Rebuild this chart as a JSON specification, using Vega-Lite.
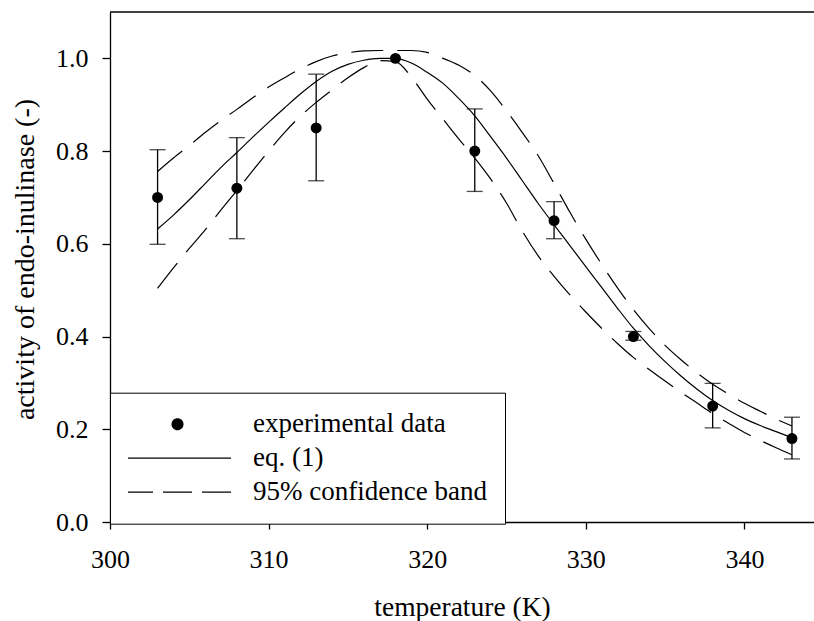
{
  "$schema": "https://vega.github.io/schema/vega-lite/v6.json",
  "width": 704,
  "height": 510,
  "autosize": {"type": "none"},
  "padding": {"left": 110, "top": 12, "right": 0, "bottom": 99},
  "background": "white",
  "config": {
    "view": {"stroke": null},
    "font": "Liberation Serif",
    "axis": {
      "grid": false,
      "labelFlush": false,
      "domainColor": "black",
      "domainWidth": 1.3,
      "tickColor": "black",
      "tickWidth": 1.3,
      "labelColor": "black",
      "titleColor": "black",
      "labelFont": "Liberation Serif",
      "titleFont": "Liberation Serif",
      "labelFontSize": 26,
      "titleFontSize": 27.5,
      "titleFontWeight": "normal"
    }
  },
  "datasets": {
    "obs": [
      {"T": 303, "v": 0.70, "series": "experimental data"},
      {"T": 308, "v": 0.72, "series": "experimental data"},
      {"T": 313, "v": 0.85, "series": "experimental data"},
      {"T": 318, "v": 1.00, "series": "experimental data"},
      {"T": 323, "v": 0.80, "series": "experimental data"},
      {"T": 328, "v": 0.65, "series": "experimental data"},
      {"T": 333, "v": 0.40, "series": "experimental data"},
      {"T": 338, "v": 0.25, "series": "experimental data"},
      {"T": 343, "v": 0.18, "series": "experimental data"}
    ],
    "err": [
      {"T": 303, "lo": 0.599, "hi": 0.803},
      {"T": 308, "lo": 0.611, "hi": 0.829},
      {"T": 313, "lo": 0.736, "hi": 0.966},
      {"T": 323, "lo": 0.713, "hi": 0.891},
      {"T": 328, "lo": 0.611, "hi": 0.691},
      {"T": 333, "lo": 0.392, "hi": 0.411},
      {"T": 338, "lo": 0.203, "hi": 0.299},
      {"T": 343, "lo": 0.136, "hi": 0.226}
    ],
    "fit": [
      {"T": 303, "v": 0.632, "series": "eq. (1)"},
      {"T": 304, "v": 0.662, "series": "eq. (1)"},
      {"T": 305, "v": 0.695, "series": "eq. (1)"},
      {"T": 306, "v": 0.73, "series": "eq. (1)"},
      {"T": 307, "v": 0.765, "series": "eq. (1)"},
      {"T": 308, "v": 0.797, "series": "eq. (1)"},
      {"T": 309, "v": 0.83, "series": "eq. (1)"},
      {"T": 310, "v": 0.862, "series": "eq. (1)"},
      {"T": 311, "v": 0.893, "series": "eq. (1)"},
      {"T": 312, "v": 0.923, "series": "eq. (1)"},
      {"T": 313, "v": 0.95, "series": "eq. (1)"},
      {"T": 314, "v": 0.972, "series": "eq. (1)"},
      {"T": 315, "v": 0.987, "series": "eq. (1)"},
      {"T": 316, "v": 0.996, "series": "eq. (1)"},
      {"T": 317, "v": 1.0, "series": "eq. (1)"},
      {"T": 318, "v": 1.0, "series": "eq. (1)"},
      {"T": 319, "v": 0.99, "series": "eq. (1)"},
      {"T": 320, "v": 0.97, "series": "eq. (1)"},
      {"T": 321, "v": 0.946, "series": "eq. (1)"},
      {"T": 322, "v": 0.913, "series": "eq. (1)"},
      {"T": 323, "v": 0.876, "series": "eq. (1)"},
      {"T": 324, "v": 0.831, "series": "eq. (1)"},
      {"T": 325, "v": 0.785, "series": "eq. (1)"},
      {"T": 326, "v": 0.736, "series": "eq. (1)"},
      {"T": 327, "v": 0.687, "series": "eq. (1)"},
      {"T": 328, "v": 0.641, "series": "eq. (1)"},
      {"T": 329, "v": 0.596, "series": "eq. (1)"},
      {"T": 330, "v": 0.551, "series": "eq. (1)"},
      {"T": 331, "v": 0.506, "series": "eq. (1)"},
      {"T": 332, "v": 0.461, "series": "eq. (1)"},
      {"T": 333, "v": 0.418, "series": "eq. (1)"},
      {"T": 334, "v": 0.38, "series": "eq. (1)"},
      {"T": 335, "v": 0.346, "series": "eq. (1)"},
      {"T": 336, "v": 0.315, "series": "eq. (1)"},
      {"T": 337, "v": 0.287, "series": "eq. (1)"},
      {"T": 338, "v": 0.262, "series": "eq. (1)"},
      {"T": 339, "v": 0.241, "series": "eq. (1)"},
      {"T": 340, "v": 0.223, "series": "eq. (1)"},
      {"T": 341, "v": 0.208, "series": "eq. (1)"},
      {"T": 342, "v": 0.195, "series": "eq. (1)"},
      {"T": 343, "v": 0.182, "series": "eq. (1)"}
    ],
    "band": [
      {"T": 303, "v": 0.756, "band": "upper", "series": "95% confidence band"},
      {"T": 304, "v": 0.785, "band": "upper", "series": "95% confidence band"},
      {"T": 305, "v": 0.812, "band": "upper", "series": "95% confidence band"},
      {"T": 306, "v": 0.84, "band": "upper", "series": "95% confidence band"},
      {"T": 307, "v": 0.866, "band": "upper", "series": "95% confidence band"},
      {"T": 308, "v": 0.89, "band": "upper", "series": "95% confidence band"},
      {"T": 309, "v": 0.915, "band": "upper", "series": "95% confidence band"},
      {"T": 310, "v": 0.938, "band": "upper", "series": "95% confidence band"},
      {"T": 311, "v": 0.958, "band": "upper", "series": "95% confidence band"},
      {"T": 312, "v": 0.977, "band": "upper", "series": "95% confidence band"},
      {"T": 313, "v": 0.993, "band": "upper", "series": "95% confidence band"},
      {"T": 314, "v": 1.005, "band": "upper", "series": "95% confidence band"},
      {"T": 315, "v": 1.012, "band": "upper", "series": "95% confidence band"},
      {"T": 316, "v": 1.016, "band": "upper", "series": "95% confidence band"},
      {"T": 317, "v": 1.017, "band": "upper", "series": "95% confidence band"},
      {"T": 318, "v": 1.017, "band": "upper", "series": "95% confidence band"},
      {"T": 319, "v": 1.017, "band": "upper", "series": "95% confidence band"},
      {"T": 320, "v": 1.013, "band": "upper", "series": "95% confidence band"},
      {"T": 321, "v": 1.0, "band": "upper", "series": "95% confidence band"},
      {"T": 322, "v": 0.985, "band": "upper", "series": "95% confidence band"},
      {"T": 323, "v": 0.963, "band": "upper", "series": "95% confidence band"},
      {"T": 324, "v": 0.93, "band": "upper", "series": "95% confidence band"},
      {"T": 325, "v": 0.887, "band": "upper", "series": "95% confidence band"},
      {"T": 326, "v": 0.84, "band": "upper", "series": "95% confidence band"},
      {"T": 327, "v": 0.79, "band": "upper", "series": "95% confidence band"},
      {"T": 328, "v": 0.73, "band": "upper", "series": "95% confidence band"},
      {"T": 329, "v": 0.668, "band": "upper", "series": "95% confidence band"},
      {"T": 330, "v": 0.61, "band": "upper", "series": "95% confidence band"},
      {"T": 331, "v": 0.556, "band": "upper", "series": "95% confidence band"},
      {"T": 332, "v": 0.505, "band": "upper", "series": "95% confidence band"},
      {"T": 333, "v": 0.458, "band": "upper", "series": "95% confidence band"},
      {"T": 334, "v": 0.417, "band": "upper", "series": "95% confidence band"},
      {"T": 335, "v": 0.381, "band": "upper", "series": "95% confidence band"},
      {"T": 336, "v": 0.35, "band": "upper", "series": "95% confidence band"},
      {"T": 337, "v": 0.322, "band": "upper", "series": "95% confidence band"},
      {"T": 338, "v": 0.297, "band": "upper", "series": "95% confidence band"},
      {"T": 339, "v": 0.276, "band": "upper", "series": "95% confidence band"},
      {"T": 340, "v": 0.256, "band": "upper", "series": "95% confidence band"},
      {"T": 341, "v": 0.239, "band": "upper", "series": "95% confidence band"},
      {"T": 342, "v": 0.222, "band": "upper", "series": "95% confidence band"},
      {"T": 343, "v": 0.207, "band": "upper", "series": "95% confidence band"},
      {"T": 303, "v": 0.504, "band": "lower", "series": "95% confidence band"},
      {"T": 304, "v": 0.548, "band": "lower", "series": "95% confidence band"},
      {"T": 305, "v": 0.59, "band": "lower", "series": "95% confidence band"},
      {"T": 306, "v": 0.63, "band": "lower", "series": "95% confidence band"},
      {"T": 307, "v": 0.673, "band": "lower", "series": "95% confidence band"},
      {"T": 308, "v": 0.715, "band": "lower", "series": "95% confidence band"},
      {"T": 309, "v": 0.758, "band": "lower", "series": "95% confidence band"},
      {"T": 310, "v": 0.80, "band": "lower", "series": "95% confidence band"},
      {"T": 311, "v": 0.84, "band": "lower", "series": "95% confidence band"},
      {"T": 312, "v": 0.875, "band": "lower", "series": "95% confidence band"},
      {"T": 313, "v": 0.905, "band": "lower", "series": "95% confidence band"},
      {"T": 314, "v": 0.932, "band": "lower", "series": "95% confidence band"},
      {"T": 315, "v": 0.958, "band": "lower", "series": "95% confidence band"},
      {"T": 316, "v": 0.98, "band": "lower", "series": "95% confidence band"},
      {"T": 317, "v": 0.995, "band": "lower", "series": "95% confidence band"},
      {"T": 318, "v": 0.993, "band": "lower", "series": "95% confidence band"},
      {"T": 319, "v": 0.96, "band": "lower", "series": "95% confidence band"},
      {"T": 320, "v": 0.912, "band": "lower", "series": "95% confidence band"},
      {"T": 321, "v": 0.869, "band": "lower", "series": "95% confidence band"},
      {"T": 322, "v": 0.826, "band": "lower", "series": "95% confidence band"},
      {"T": 323, "v": 0.785, "band": "lower", "series": "95% confidence band"},
      {"T": 324, "v": 0.74, "band": "lower", "series": "95% confidence band"},
      {"T": 325, "v": 0.688, "band": "lower", "series": "95% confidence band"},
      {"T": 326, "v": 0.627, "band": "lower", "series": "95% confidence band"},
      {"T": 327, "v": 0.574, "band": "lower", "series": "95% confidence band"},
      {"T": 328, "v": 0.53, "band": "lower", "series": "95% confidence band"},
      {"T": 329, "v": 0.49, "band": "lower", "series": "95% confidence band"},
      {"T": 330, "v": 0.453, "band": "lower", "series": "95% confidence band"},
      {"T": 331, "v": 0.418, "band": "lower", "series": "95% confidence band"},
      {"T": 332, "v": 0.385, "band": "lower", "series": "95% confidence band"},
      {"T": 333, "v": 0.355, "band": "lower", "series": "95% confidence band"},
      {"T": 334, "v": 0.329, "band": "lower", "series": "95% confidence band"},
      {"T": 335, "v": 0.304, "band": "lower", "series": "95% confidence band"},
      {"T": 336, "v": 0.28, "band": "lower", "series": "95% confidence band"},
      {"T": 337, "v": 0.257, "band": "lower", "series": "95% confidence band"},
      {"T": 338, "v": 0.234, "band": "lower", "series": "95% confidence band"},
      {"T": 339, "v": 0.213, "band": "lower", "series": "95% confidence band"},
      {"T": 340, "v": 0.193, "band": "lower", "series": "95% confidence band"},
      {"T": 341, "v": 0.176, "band": "lower", "series": "95% confidence band"},
      {"T": 342, "v": 0.16, "band": "lower", "series": "95% confidence band"},
      {"T": 343, "v": 0.145, "band": "lower", "series": "95% confidence band"}
    ]
  },
  "layer": [
    {
      "data": {"name": "band"},
      "mark": {"type": "line", "strokeDash": [32, 14], "strokeWidth": 1.2, "interpolate": "monotone"},
      "encoding": {
        "x": {
          "field": "T", "type": "quantitative",
          "scale": {"domain": [300, 344.39], "nice": false, "zero": false},
          "axis": {"values": [300, 310, 320, 330, 340], "title": "temperature (K)", "tickSize": 7, "labelPadding": 17, "labelFlush": false, "titleBaseline": "alphabetic", "titleY": 93}
        },
        "y": {
          "field": "v", "type": "quantitative",
          "scale": {"domain": [0, 1.1], "nice": false},
          "axis": {"values": [0, 0.2, 0.4, 0.6, 0.8, 1.0], "format": ".1f", "title": "activity of endo-inulinase (-)", "titleFontSize": 28, "tickSize": 8, "labelPadding": 14, "labelFlush": false, "titlePadding": 16, "titleY": 247}
        },
        "detail": {"field": "band"},
        "color": {
          "field": "series", "type": "nominal",
          "scale": {"domain": ["experimental data", "eq. (1)", "95% confidence band"], "range": ["black", "black", "black"]},
          "legend": {
            "title": null,
            "orient": "none",
            "legendX": 0,
            "legendY": 380.7,
            "strokeColor": "black",
            "fillColor": "white",
            "padding": 18,
            "cornerRadius": 0,
            "symbolSize": 11449,
            "symbolType": "stroke",
            "symbolStrokeWidth": 1.2,
            "symbolOffset": -5,
            "clipHeight": 27,
            "rowPadding": 6,
            "labelFont": "Liberation Serif",
            "labelFontSize": 27,
            "labelColor": "black",
            "labelOffset": 21,
            "labelLimit": 400,
            "encode": {
              "symbols": {
                "update": {
                  "shape": {"signal": "datum.value === 'experimental data' ? 'M0.101,0A0.101,0.101,0,1,1,-0.101,0A0.101,0.101,0,1,1,0.101,0Z' : 'stroke'"},
                  "fill": {"signal": "datum.value === 'experimental data' ? 'black' : 'transparent'"},
                  "stroke": {"value": "black"},
                  "strokeDash": {"signal": "datum.value === '95% confidence band' ? [29, 10] : [1, 0]"},
                  "opacity": {"value": 1}
                }
              }
            }
          }
        }
      }
    },
    {
      "data": {"name": "fit"},
      "mark": {"type": "line", "strokeWidth": 1.2, "interpolate": "monotone"},
      "encoding": {
        "x": {"field": "T", "type": "quantitative"},
        "y": {"field": "v", "type": "quantitative"},
        "color": {"field": "series", "type": "nominal"}
      }
    },
    {
      "data": {"name": "err"},
      "mark": {"type": "rule", "color": "black", "strokeWidth": 1.3},
      "encoding": {
        "x": {"field": "T", "type": "quantitative"},
        "y": {"field": "lo", "type": "quantitative"},
        "y2": {"field": "hi"}
      }
    },
    {
      "data": {"name": "err"},
      "mark": {"type": "tick", "orient": "horizontal", "color": "black", "size": 16, "thickness": 1.3},
      "encoding": {
        "x": {"field": "T", "type": "quantitative"},
        "y": {"field": "lo", "type": "quantitative"}
      }
    },
    {
      "data": {"name": "err"},
      "mark": {"type": "tick", "orient": "horizontal", "color": "black", "size": 16, "thickness": 1.3},
      "encoding": {
        "x": {"field": "T", "type": "quantitative"},
        "y": {"field": "hi", "type": "quantitative"}
      }
    },
    {
      "data": {"name": "obs"},
      "mark": {"type": "point", "filled": true, "size": 120, "opacity": 1},
      "encoding": {
        "x": {"field": "T", "type": "quantitative"},
        "y": {"field": "v", "type": "quantitative"},
        "color": {"field": "series", "type": "nominal"}
      }
    },
    {
      "data": {"values": [{}]},
      "mark": {"type": "rule", "color": "black", "strokeWidth": 1.3},
      "encoding": {"y": {"datum": 1.1}}
    }
  ]
}
